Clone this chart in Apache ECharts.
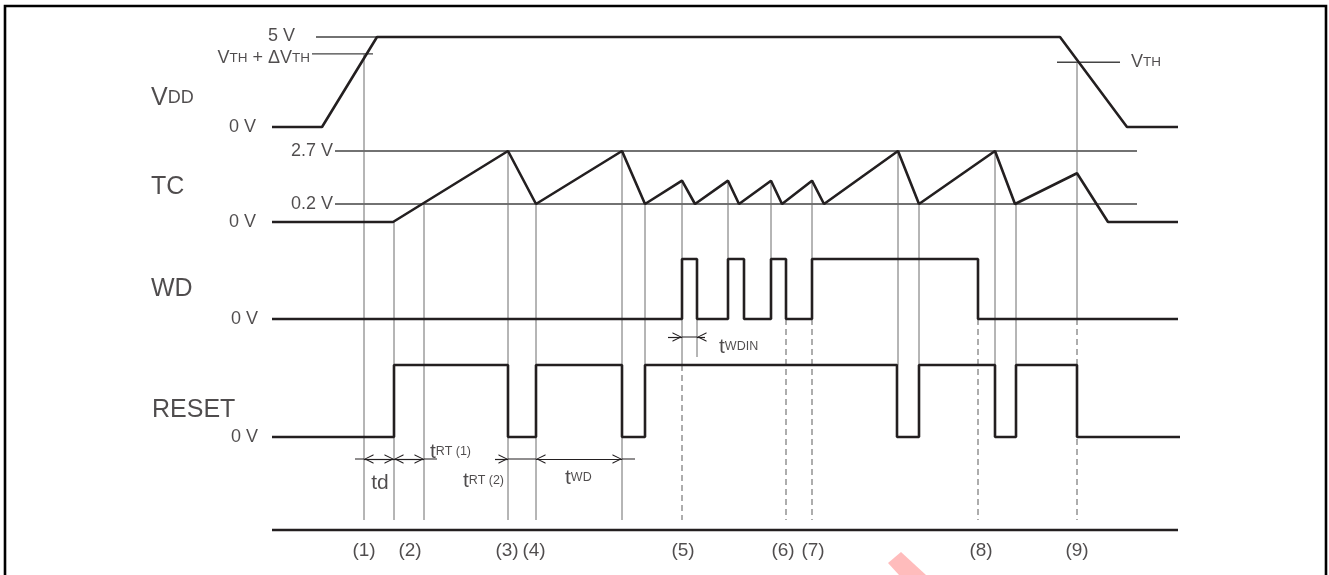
<!DOCTYPE html>
<html>
<head>
<meta charset="utf-8">
<script src="https://cdn.jsdelivr.net/npm/echarts@6/dist/echarts.min.js"></script>
<style>
  html, body { margin: 0; padding: 0; background: #fff; }
  #main { width: 1329px; height: 575px; }
</style>
</head>
<body>
<div id="main"></div>
<script>
// time is in arbitrary units along the diagram; levels are in volts / logic levels
const vddWave = [[272, 0], [322, 0], [377, 5], [1060, 5], [1127, 0], [1178, 0]];
const tcWave = [[272, 0], [393, 0], [508, 2.7], [536, 0.2], [622, 2.7], [645, 0.2],
  [682, 1.3], [695, 0.2], [728, 1.3], [739, 0.2], [771, 1.3], [782, 0.2], [812, 1.3], [824, 0.2],
  [898, 2.7], [919, 0.2], [995, 2.7], [1015, 0.2], [1077, 1.65], [1108, 0], [1178, 0]];
const wdWave = [[272, 0], [682, 1], [697, 0], [728, 1], [744, 0], [771, 1], [786, 0], [812, 1], [978, 0], [1178, 0]];
const resetWave = [[272, 0], [394, 1], [508, 0], [536, 1], [622, 0], [645, 1], [897, 0], [919, 1],
  [995, 0], [1016, 1], [1077, 0], [1180, 0]];

const vth = 3.6, vthUp = 4.06;

// guide lines: [row, level, from, to]
const guides = [['vdd', 5, 316, 377], ['vdd', vthUp, 312, 373], ['vdd', vth, 1057, 1120],
  ['tc', 2.7, 335, 1137], ['tc', 0.2, 335, 1137]];

// event markers: [time, fromRow, fromLevel, toRow, toLevel]
const solidMarks = [
  [364, 'vdd', vthUp, 'bot', 0], [394, 'tc', 0, 'bot', 0], [424, 'tc', 0.2, 'bot', 0],
  [508, 'tc', 2.7, 'bot', 0], [536, 'tc', 0.2, 'bot', 0], [622, 'tc', 2.7, 'bot', 0],
  [645, 'tc', 0.2, 'reset', 1], [682, 'tc', 1.3, 'wd', 1], [682, 'wd', 0, 'reset', 1],
  [697, 'wd', 0, 'arrow', 1], [728, 'tc', 1.3, 'wd', 1], [771, 'tc', 1.3, 'wd', 1], [812, 'tc', 1.3, 'wd', 1],
  [898, 'tc', 2.7, 'reset', 1], [919, 'tc', 0.2, 'reset', 1], [995, 'tc', 2.7, 'reset', 1],
  [1016, 'tc', 0.2, 'reset', 1], [1077, 'vdd', vth, 'wd', 0]];
const dashedMarks = [[682, 'reset', 1, 'bot', 0], [786, 'wd', 0, 'bot', 0], [812, 'wd', 0, 'bot', 0],
  [978, 'wd', 0, 'bot', 0], [1077, 'wd', 0, 'bot', 0]];

// dimension arrows: [from, to, row]
const bothArrows = [[364, 394, 'dim'], [394, 424, 'dim'], [536, 622, 'dim']];
const endArrows = [[495, 508, 'dim'], [668, 682, 'arrow'], [705, 697, 'arrow']];
const plainDims = [[355, 364, 'dim'], [424, 437, 'dim'], [508, 536, 'dim'], [622, 635, 'dim'], [682, 697, 'arrow']];

const events = ['(1)', '(2)', '(3)', '(4)', '(5)', '(6)', '(7)', '(8)', '(9)'];
const eventTimes = [364, 410, 507, 534, 683, 783, 813, 981, 1077];

// vertical layout of each row
const rows = {
  vdd: [[0, 127], [5, 37]],
  tc: [[0, 222], [0.2, 204], [2.7, 151]],
  wd: [[0, 319], [1, 259]],
  reset: [[0, 437], [1, 365]],
  dim: [[0, 459], [1, 459]],
  arrow: [[0, 337], [1, 357]],
  bot: [[0, 520], [1, 520]],
  base: [[0, 530], [1, 530]],
  evt: [[0, 551], [1, 551]]
};
function lvl(row, v) {
  const p = rows[row];
  for (let i = 1; i < p.length; i++) {
    if (v <= p[i][0] || i === p.length - 1) {
      const a = p[i - 1], b = p[i];
      return a[1] + (v - a[0]) / (b[0] - a[0]) * (b[1] - a[1]);
    }
  }
}
const toXY = (row, arr) => arr.map(d => [d[0], lvl(row, d[1])]);
function segs(list) {
  const out = [];
  list.forEach(m => { out.push([m[0], lvl(m[1], m[2])], [m[0], lvl(m[3], m[4])], '-'); });
  return out;
}

const FONT = 'Liberation Sans, Arial, Helvetica, sans-serif';
const INK = '#231f20';
// open arrow head pointing up, tip at the centre of a square box
const chevron = 'path://M-6,-12L-6,-12M18,12L18,12M0,12L6,0L12,12L10.5,12L6,2.6L1.5,12Z';

const rich = {
  b: { fontSize: 25, fontFamily: FONT, color: INK },
  bs: { fontSize: 18, fontFamily: FONT, color: INK },
  m: { fontSize: 18, fontFamily: FONT, color: INK },
  ms: { fontSize: 13.5, fontFamily: FONT, color: INK },
  e: { fontSize: 19, fontFamily: FONT, color: INK },
  t: { fontSize: 21, fontFamily: FONT, color: INK },
  ts: { fontSize: 12.5, fontFamily: FONT, color: INK }
};
// text annotations: [time, row, level, text, align, extra offset]
const texts = [
  [295, 'vdd', 5, '{m|5 V}', 'right', -1],
  [310, 'vdd', 3.83, '{m|V}{ms|TH}{m| + ΔV}{ms|TH}', 'right', 0],
  [151, 'vdd', 1.6, '{b|V}{bs|DD}', 'left', 0],
  [256, 'vdd', 0, '{m|0 V}', 'right', 0],
  [1131, 'vdd', vth, '{m|V}{ms|TH}', 'left', 0],
  [333, 'tc', 2.7, '{m|2.7 V}', 'right', 0],
  [151, 'tc', 1.0, '{b|TC}', 'left', 0],
  [333, 'tc', 0.2, '{m|0.2 V}', 'right', 0],
  [256, 'tc', 0, '{m|0 V}', 'right', 0],
  [151, 'wd', 0.5, '{b|WD}', 'left', 0],
  [258, 'wd', 0, '{m|0 V}', 'right', 0],
  [152, 'reset', 0.37, '{b|RESET}', 'left', 0],
  [258, 'reset', 0, '{m|0 V}', 'right', 0],
  [380, 'dim', 0, '{t|td}', 'center', 24],
  [430, 'dim', 0, '{t|t}{ts|RT (1)}', 'left', -7],
  [463, 'dim', 0, '{t|t}{ts|RT (2)}', 'left', 22],
  [565, 'dim', 0, '{t|t}{ts|WD}', 'left', 19],
  [719, 'arrow', 0, '{t|t}{ts|WDIN}', 'left', 10]
];

window.onload = function () {
  const chart = echarts.init(document.getElementById('main'));

  const wave = (data, step) => ({
    type: 'line', data: data, step: step || false, symbol: 'none', silent: true,
    lineStyle: { width: 2.6, color: INK }, z: 5
  });

  const labelData = texts.map(t => ({
    value: [t[0], lvl(t[1], t[2]) + t[5]],
    label: { formatter: t[3], align: t[4] }
  }));
  eventTimes.forEach((x, i) => labelData.push({
    value: [x, lvl('evt', 0)], label: { formatter: '{e|' + events[i] + '}', align: 'center' }
  }));

  const arrowLines = (list, sym) => ({
    type: 'lines', coordinateSystem: 'cartesian2d', polyline: false, silent: true,
    symbol: sym, symbolSize: 19,
    lineStyle: { color: INK, width: 1.2, opacity: 1 },
    data: list.map(a => ({ coords: [[a[0], lvl(a[2], 0)], [a[1], lvl(a[2], 0)]] })),
    z: 6
  });

  const option = {
    animation: false,
    grid: { left: 0, right: 0, top: 0, bottom: 0 },
    xAxis: { type: 'value', min: 0, max: 1329, show: false },
    yAxis: { type: 'value', min: 0, max: 575, inverse: true, show: false },
    graphic: [
      { type: 'rect', shape: { x: 5, y: 6, width: 1321, height: 620 },
        style: { fill: 'none', stroke: '#000', lineWidth: 2.6 }, z: 10 },
      { type: 'polygon', shape: { points: [[888, 563], [901, 552], [926, 575], [899, 575]] },
        style: { fill: '#ffbcbc' }, z: 1 }
    ],
    series: [
      // guide lines
      { type: 'line', symbol: 'none', silent: true, connectNulls: false,
        lineStyle: { width: 1.4, color: '#444' }, z: 2,
        data: guides.reduce((o, g) => o.concat([[g[2], lvl(g[0], g[1])], [g[3], lvl(g[0], g[1])], '-']), []) },
      // solid event markers
      { type: 'line', symbol: 'none', silent: true, connectNulls: false,
        lineStyle: { width: 1, color: '#6d6d6d' }, z: 2, data: segs(solidMarks) },
      // dashed event markers
      { type: 'line', symbol: 'none', silent: true, connectNulls: false,
        lineStyle: { width: 1.2, color: '#777', type: [6, 4] }, z: 2, data: segs(dashedMarks) },
      // plain dimension pieces
      { type: 'line', symbol: 'none', silent: true, connectNulls: false,
        lineStyle: { width: 1.2, color: INK }, z: 3,
        data: plainDims.reduce((o, a) => o.concat([[a[0], lvl(a[2], 0)], [a[1], lvl(a[2], 0)], '-']), []) },
      arrowLines(bothArrows, [chevron, chevron]),
      arrowLines(endArrows, ['none', chevron]),
      // waveforms
      wave(toXY('vdd', vddWave)),
      wave(toXY('tc', tcWave)),
      wave(toXY('wd', wdWave), 'end'),
      wave(toXY('reset', resetWave), 'end'),
      // time baseline
      { type: 'line', symbol: 'none', silent: true, lineStyle: { width: 2.6, color: INK },
        data: [[272, lvl('base', 0)], [1178, lvl('base', 0)]] },
      // text
      { type: 'scatter', symbolSize: 0, silent: true, z: 8,
        label: { show: true, position: 'inside', verticalAlign: 'middle', rich: rich },
        data: labelData }
    ]
  };
  chart.setOption(option);
};
</script>
</body>
</html>
